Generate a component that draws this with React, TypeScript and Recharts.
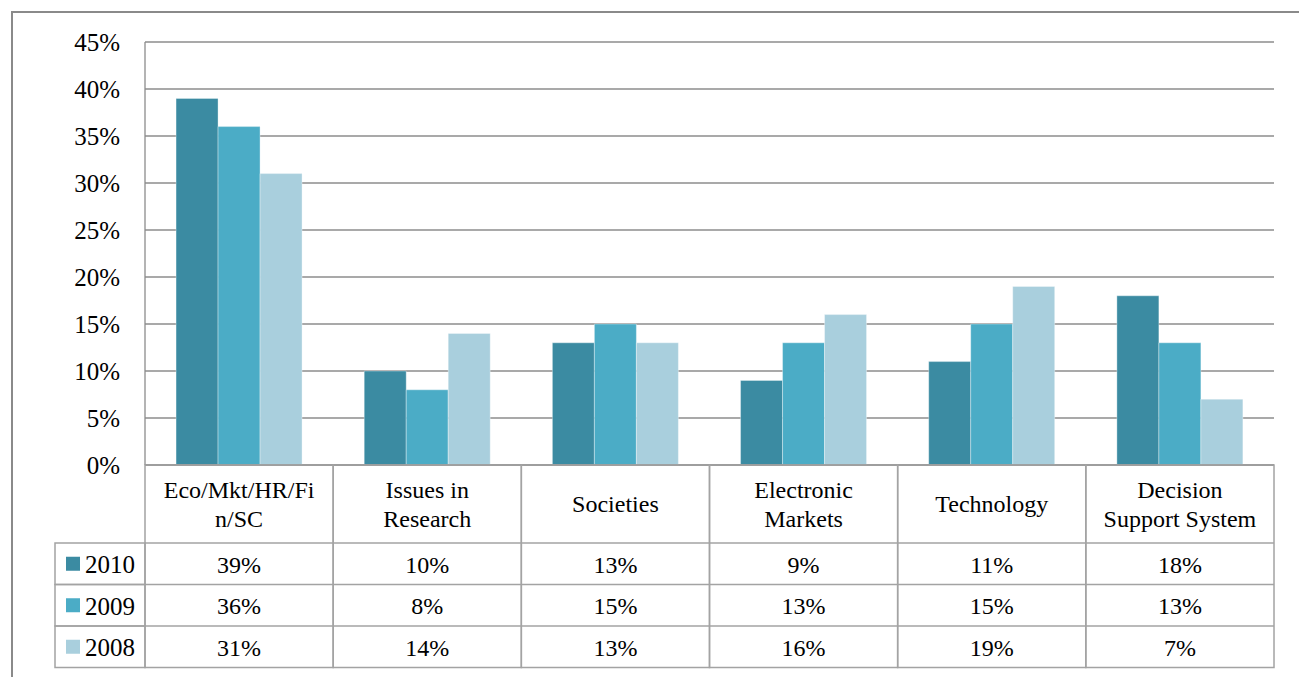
import { BarChart, Bar, XAxis, YAxis, CartesianGrid } from 'recharts';

const categories = ['Eco/Mkt/HR/Fin/SC', 'Issues in Research', 'Societies', 'Electronic Markets', 'Technology', 'Decision Support System'];
const categoryLines = [
  ['Eco/Mkt/HR/Fi', 'n/SC'],
  ['Issues in', 'Research'],
  ['Societies'],
  ['Electronic', 'Markets'],
  ['Technology'],
  ['Decision', 'Support System'],
];
const values2010 = [39, 10, 13, 9, 11, 18];
const values2009 = [36, 8, 15, 13, 15, 13];
const values2008 = [31, 14, 13, 16, 19, 7];
const yTicks = [0, 5, 10, 15, 20, 25, 30, 35, 40, 45];

const series = [
  { key: 'y2010', name: '2010', color: '#3b8ba2', values: values2010 },
  { key: 'y2009', name: '2009', color: '#4bacc6', values: values2009 },
  { key: 'y2008', name: '2008', color: '#a9cfdd', values: values2008 },
];

const data = categories.map((c, i) => ({
  name: c,
  y2010: values2010[i],
  y2009: values2009[i],
  y2008: values2008[i],
}));

const W = 1299;
const H = 677;
const PLOT_LEFT = 145;
const PLOT_RIGHT = 1274;
const FONT = 'Liberation Serif, DejaVu Serif, serif';
const LINE = '#a3a3a3';
const txt = { fontFamily: FONT, fontSize: 24 };

// header row height and data row height of the table under the axis
const HEAD_H = 78;
const ROW_H = 41.5;
const LEGEND_LEFT = 55;

function TableTick(props: any) {
  const { x, y, payload } = props;
  const i = payload.index;
  const band = (PLOT_RIGHT - PLOT_LEFT) / categories.length;
  const left = x - band / 2;
  const lines = categoryLines[i];
  const headMid = y + HEAD_H / 2;
  const lineGap = 29;
  return (
    <g>
      <rect x={left} y={y} width={band} height={HEAD_H + ROW_H * 3} fill="none" stroke={LINE} strokeWidth={1.5} />
      {lines.map((t, k) => (
        <text
          key={k}
          x={x}
          y={headMid + (k - (lines.length - 1) / 2) * lineGap}
          textAnchor="middle"
          dominantBaseline="central"
          style={txt}
          fill="#000"
        >
          {t}
        </text>
      ))}
      {series.map((s, r) => {
        const top = y + HEAD_H + r * ROW_H;
        return (
          <g key={s.key}>
            <line x1={left} x2={left + band} y1={top} y2={top} stroke={LINE} strokeWidth={1.5} />
            <text x={x} y={top + ROW_H / 2 + 1} textAnchor="middle" dominantBaseline="central" style={txt} fill="#000">
              {s.values[i]}%
            </text>
          </g>
        );
      })}
      {i === 0 &&
        series.map((s, r) => {
          const top = y + HEAD_H + r * ROW_H;
          return (
            <g key={'lg' + s.key}>
              <rect x={LEGEND_LEFT} y={top} width={left - LEGEND_LEFT} height={ROW_H} fill="none" stroke={LINE} strokeWidth={1.5} />
              <rect x={66} y={top + ROW_H / 2 - 7} width={14} height={14} fill={s.color} />
              <text x={85} y={top + ROW_H / 2 + 1} dominantBaseline="central" style={{ ...txt, fontSize: 25 }} fill="#000">
                {s.name}
              </text>
            </g>
          );
        })}
    </g>
  );
}

export default function App() {
  return (
    <div style={{ position: 'absolute', left: 0, top: 0, width: W, height: H, background: '#fff', overflow: 'hidden', fontFamily: FONT }}>
      <div
        style={{
          position: 'absolute',
          left: 11,
          top: 11,
          width: W,
          height: H,
          borderLeft: '2px solid #8a8a8a',
          borderTop: '2px solid #8a8a8a',
        }}
      />
      <div style={{ position: 'absolute', left: 0, top: 0 }}>
        <BarChart
          width={W}
          height={H}
          data={data}
          margin={{ top: 42, right: W - PLOT_RIGHT, bottom: 12, left: 45 }}
          barCategoryGap="16.5%"
          barGap={0}
          style={{ fontFamily: FONT }}
        >
          <CartesianGrid vertical={false} stroke="#8c8c8c" strokeWidth={1.3} />
          <XAxis
            dataKey="name"
            height={200}
            tickLine={false}
            tickSize={0}
            tickMargin={0}
            axisLine={{ stroke: '#8c8c8c', strokeWidth: 1.3 }}
            interval={0}
            tick={<TableTick />}
          />
          <YAxis
            width={100}
            domain={[0, 45]}
            ticks={yTicks}
            tickFormatter={(v: number) => `${v}%`}
            tickLine={false}
            tickSize={0}
            tickMargin={25}
            axisLine={{ stroke: '#8c8c8c', strokeWidth: 1.3 }}
            tick={{ style: { ...txt, fontSize: 25 }, fontFamily: FONT, fontSize: 25, fill: '#000' }}
          />
          {series.map((s) => (
            <Bar
              key={s.key}
              dataKey={s.key}
              name={s.name}
              fill={s.color}
              stroke="#ffffff"
              strokeOpacity={0.35}
              strokeWidth={1}
              isAnimationActive={false}
            />
          ))}
        </BarChart>
      </div>
    </div>
  );
}
